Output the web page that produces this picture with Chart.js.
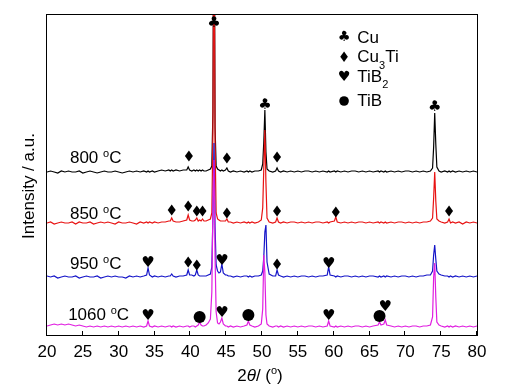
<!DOCTYPE html>
<html><head><meta charset="utf-8">
<script src="https://cdn.jsdelivr.net/npm/chart.js@4/dist/chart.umd.min.js"></script>
<style>html,body{margin:0;padding:0;background:#fff;}canvas{display:block;}</style>
</head><body>
<canvas id="c" width="507" height="389"></canvas>
<script>
// ---- DATA ----
const twoTheta = [
 20,20.5,21,21.5,22,22.5,23,23.5,24,24.5, 25,25.5,26,26.5,27,27.5,28,28.5,29,29.5, 30,30.5,31,31.5,32,32.5,33,
 33.5,33.9,34.1,34.3,34.7,35,35.5,36,36.5,37, 37.2,37.4,37.6,38,38.5,39,39.5,39.7,39.9,40.2, 40.5,40.7,40.9,41.1,41.3,41.5,41.7,41.9,42.2,42.5,
 42.8,43,43.15,43.3,43.45,43.6,43.8,44,44.2,44.4, 44.6,44.9,45.1,45.3,45.6,46,46.5,47,47.5,47.9, 48.1,48.3,48.6,49,49.5,49.9,50.1,50.25,50.4,50.55, 50.7,51,51.5,51.9,52.1,52.3,52.6,53,
 53.5,54,54.5,55,55.5,56,56.5,57,57.5,58,58.5, 59.1,59.3,59.5, 60.1,60.3,60.5, 61,61.5,62,62.5,63,63.5,64,64.5,65,65.5, 66.2,66.4,66.6, 67,67.2,67.4,
 68,68.5,69,69.5,70,70.5,71,71.5,72,72.5,73,73.5, 73.8,73.95,74.1,74.25,74.4,74.7, 75,75.5, 75.9,76.1,76.3, 76.6,77,77.5,78,78.5,79,79.5,80
];
const int800 = [
 0,1,0,-1,1,0,1,0,0,1, -1,0,1,0,-1,0,1,0,0,1, 0,-1,0,1,0,1,0,
 1,0,1,0,1,0,1,2,1,2, 1,2,1,2,1,2,2,5,2,1, 2,1,2,1,2,1,2,1,1,2,
 3,6,60,340,45,6,3,2,1,2, 1,2,4,1,0,1,0,1,0,1, 0,1,0,1,1,2,8,30,62,20, 3,1,0,1,4,1,0,1,
 0,1,0,1,0,1,1,0,1,0,1, 0,1,0, 1,0,1, 0,1,0,1,1,0,1,0,1,0, 1,0,1, 0,1,0,
 1,0,1,0,1,1,0,1,0,1,0,1, 4,25,59,28,5,1, 0,1, 0,1,0, 1,0,1,0,1,0,1,0
];
const int850 = [
 0,1,-1,0,1,0,0,1,-1,1, 0,0,1,-1,0,1,0,1,0,-1, 1,0,0,1,0,-1,1,
 0,1,0,1,0,1,0,1,1,2, 2,5,2,1,1,2,3,8,3,2, 2,3,5,2,3,2,4,2,2,3,
 4,10,90,340,80,10,4,3,2,2, 2,2,4,1,1,0,1,0,1,0, 1,0,1,0,1,3,15,55,93,40, 5,1,0,1,5,1,0,1,
 0,1,1,0,1,0,1,0,1,1,0, 1,0,1, 2,6,1, 0,1,0,1,0,1,1,0,1,0, 1,0,1, 0,1,0,
 1,0,1,1,0,1,0,1,0,1,1,2, 5,25,51,22,4,2, 1,0, 1,4,0, 1,0,1,-1,1,0,1,0
];
const int950 = [
 1,0,1,-1,0,1,0,0,1,-1, 0,1,0,0,1,-1,0,1,0,1, 0,0,-1,1,0,1,0,
 1,2,9,2,0,1,0,1,0,1, 1,3,1,0,1,1,2,7,2,2, 1,2,7,2,1,1,1,1,1,2,
 3,10,60,134,50,12,6,4,5,13, 4,2,2,1,1,0,1,0,1,1, 0,1,0,1,1,2,6,20,45,52, 15,3,1,1,7,2,1,0,
 1,0,1,0,1,1,0,1,0,1,1, 2,10,2, 1,0,1, 0,1,1,0,1,0,1,0,1,1, 0,1,0, 1,0,1,
 0,1,0,1,1,0,1,0,1,1,2,2, 6,22,32,18,6,3, 2,1, 1,0,1, 0,1,0,1,0,1,0,1
];
const int1060 = [
 1,2,3,2,3,2,3,2,1,2, 1,0,1,0,1,0,1,0,1,0, 1,0,1,0,1,0,1,
 0,1,6,1,0,1,0,1,0,1, 1,0,1,0,1,0,1,1,0,1, 1,0,1,2,5,2,1,1,2,4,
 8,35,120,167,70,15,4,3,5,9, 3,1,1,0,1,0,1,0,1,2, 6,2,1,0,1,3,18,72,55,12, 3,1,0,1,1,0,1,0,
 1,0,1,0,1,0,1,1,0,1,0, 1,6,1, 0,1,0, 1,0,1,0,1,1,0,1,0,1, 2,5,2, 3,7,2,
 1,0,1,0,1,0,1,1,0,1,1,2, 10,50,64,30,5,2, 1,0, 1,0,1, 0,1,0,1,0,1,0,1
];
const temperatures = ['800', '850', '950', '1060'];
const stackOffsets = [163, 112, 58, 8];
const phases = ['Cu', 'Cu3Ti', 'TiB2', 'TiB'];
// peak markers: [2theta, intensity level, phase index]
const peakMarks = [
 [43.3,312,0],[39.8,179,1],[45.1,177,1],[50.4,230,0],[52.1,178,1],[74.1,228,0],
 [37.4,125,1],[39.7,129,1],[40.9,124,1],[41.7,124,1],[45.1,122,1],[52.1,124,1],[60.3,123,1],[76.1,124,1],
 [34.1,72,2],[39.7,73,1],[40.9,70,1],[44.4,74,2],[52.1,71,1],[59.3,71,2],
 [34.1,19,2],[41.3,18,3],[44.4,22,2],[48.1,20,3],[59.3,19,2],[66.4,19,3],[67.2,28,2]
];
const xTicks = [20,25,30,35,40,45,50,55,60,65,70,75,80];

// ---- STYLE / LAYOUT ----
const colors = ['#000000', '#e81212', '#1414c8', '#e01ee0'];
const FONT = '"Liberation Sans", Arial, sans-serif';
const SYMF = '"DejaVu Sans", sans-serif';
const labelAnchor = {x: 23.2, y: [172, 116, 66, 15]};
const legendAnchor = {symX: 61.45, textX: 63.3, symY: [297.3, 278.3, 258, 234], textY: [291.7, 272.7, 253.3, 229]};

const datasets = temperatures.map((t, k) => {
  const vals = [int800, int850, int950, int1060][k];
  return {
    label: t + ' °C',
    data: twoTheta.map((x, i) => ({x: x, y: vals[i] + stackOffsets[k]})),
    borderColor: colors[k],
    borderWidth: 1.2,
    pointRadius: 0,
    tension: 0,
    fill: false,
    order: 3 - k
  };
});

function drawSymbol(ctx, p, x, y, s) {
  ctx.fillStyle = '#000';
  if (p === 0) {
    ctx.font = (15 * s) + 'px ' + SYMF; ctx.textAlign = 'center'; ctx.textBaseline = 'middle';
    ctx.fillText('\u2663', x, y);
  } else if (p === 1) {
    ctx.beginPath();
    ctx.moveTo(x, y - 5.5 * s); ctx.lineTo(x + 4 * s, y); ctx.lineTo(x, y + 5.5 * s); ctx.lineTo(x - 4 * s, y);
    ctx.closePath(); ctx.fill();
  } else if (p === 2) {
    ctx.font = (15 * s) + 'px ' + SYMF; ctx.textAlign = 'center'; ctx.textBaseline = 'middle';
    ctx.fillText('\u2665', x, y);
  } else {
    ctx.beginPath(); ctx.arc(x, y, 6 * s, 0, Math.PI * 2); ctx.fill();
  }
}

function drawParts(ctx, parts, x, y, align) {
  // parts: [text, size, dy, italic]
  let w = 0;
  for (const p of parts) { ctx.font = (p[3] ? 'italic ' : '') + p[1] + 'px ' + FONT; w += ctx.measureText(p[0]).width; }
  let cx = align === 'center' ? x - w / 2 : x;
  ctx.textAlign = 'left'; ctx.textBaseline = 'alphabetic';
  for (const p of parts) {
    ctx.font = (p[3] ? 'italic ' : '') + p[1] + 'px ' + FONT;
    ctx.fillText(p[0], cx, y + p[2]);
    cx += ctx.measureText(p[0]).width;
  }
}

const overlay = {
  id: 'overlay',
  afterDatasetsDraw(chart) {
    const {ctx, chartArea: a, scales: {x, y}} = chart;
    ctx.save();
    ctx.strokeStyle = '#000'; ctx.lineWidth = 1;
    ctx.strokeRect(a.left - 0.5, a.top - 0.5, a.right - a.left + 1, a.bottom - a.top + 1);
    ctx.beginPath();
    for (const t of xTicks) {
      const px = Math.round(x.getPixelForValue(t)) - 0.5;
      ctx.moveTo(px, a.bottom); ctx.lineTo(px, a.bottom - 4);
    }
    ctx.stroke();
    // peak markers
    for (const m of peakMarks) drawSymbol(ctx, m[2], x.getPixelForValue(m[0]), y.getPixelForValue(m[1]), 1);
    // temperature labels
    ctx.fillStyle = '#000';
    temperatures.forEach((t, k) => {
      drawParts(ctx, [[t + ' ', 17, 0], ['o', 11, -6.5], ['C', 17, 0]],
        x.getPixelForValue(labelAnchor.x - (t.length > 3 ? 0.25 : 0)), y.getPixelForValue(labelAnchor.y[k]), 'left');
    });
    // legend
    const legendParts = [
      [['Cu', 17, 0]],
      [['Cu', 17, 0], ['3', 11, 6.5], ['Ti', 17, 0]],
      [['TiB', 17, 0], ['2', 11, 6.5]],
      [['TiB', 17, 0]]
    ];
    phases.forEach((ph, k) => {
      drawSymbol(ctx, k, x.getPixelForValue(legendAnchor.symX), y.getPixelForValue(legendAnchor.symY[k]), k === 3 ? 0.8 : 0.95);
      ctx.fillStyle = '#000';
      drawParts(ctx, legendParts[k], x.getPixelForValue(legendAnchor.textX), y.getPixelForValue(legendAnchor.textY[k]), 'left');
    });
    // axis titles
    drawParts(ctx, [['2', 17, 0], ['\u03b8', 17, 0, true], ['/ (', 17, 0], ['o', 11, -7], [')', 17, 0]],
      (a.left + a.right) / 2 - 2, a.bottom + 46, 'center');
    ctx.save();
    ctx.translate(a.left - 13.5, (a.top + a.bottom) / 2 + 11);
    ctx.rotate(-Math.PI / 2);
    ctx.font = '17px ' + FONT; ctx.textAlign = 'center'; ctx.textBaseline = 'alphabetic';
    ctx.fillText('Intensity / a.u.', 0, 0);
    ctx.restore();
    ctx.restore();
  }
};

new Chart(document.getElementById('c'), {
  type: 'line',
  data: {datasets: datasets},
  options: {
    responsive: false, animation: false, devicePixelRatio: 1,
    layout: {padding: {left: 47, right: 30, top: 15, bottom: 0}},
    plugins: {legend: {display: false}, tooltip: {enabled: false}},
    scales: {
      x: {
        type: 'linear', min: 20, max: 80,
        afterBuildTicks(s) { s.ticks = xTicks.map(v => ({value: v})); },
        ticks: {autoSkip: false, maxRotation: 0, color: '#000', font: {family: FONT, size: 17}, padding: 7},
        grid: {display: false, drawTicks: false}, border: {display: false},
        afterFit(s) { s.height = 54; }
      },
      y: {display: false, min: 0, max: 320}
    }
  },
  plugins: [overlay]
});
</script>
</body></html>
